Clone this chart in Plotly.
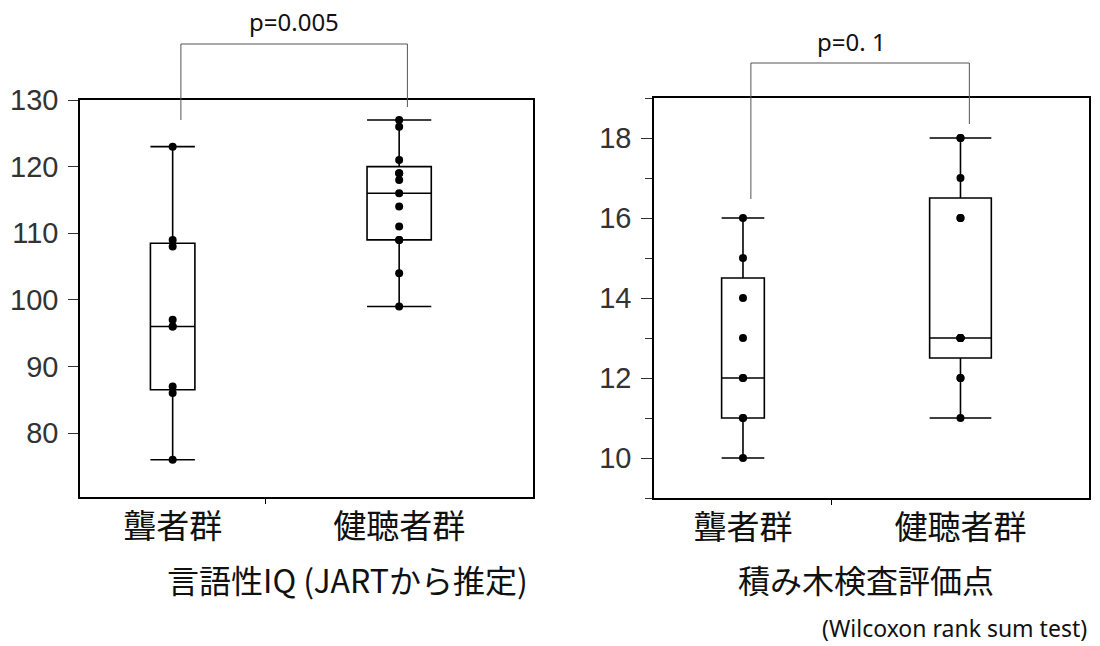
import plotly.graph_objects as go

# ---- data ----
groups = ["聾者群", "健聴者群"]
iq_deaf = [76, 86, 87, 96, 96, 97, 108, 109, 123]
iq_hearing = [99, 104, 109, 109, 111, 114, 116, 118, 119, 119, 121, 126, 127]
block_deaf = [10, 11, 11, 12, 12, 13, 14, 15, 16]
block_hearing = [11, 12, 12, 13, 13, 13, 13, 13, 16, 16, 17, 18, 18]
p_left = "p=0.005"
p_right = "p=0. 1"
title_left = "言語性IQ (JARTから推定)"
title_right = "積み木検査評価点"
note = "(Wilcoxon rank sum test)"

W, H = 1100, 646


def px(x):
    return x / W


def py(y):
    return 1 - y / H


fig = go.Figure()


def add_panel(vals_a, vals_b, xa, ya):
    na, nb = len(vals_a), len(vals_b)
    centers = [na / 2, na + nb / 2]
    for vals, c, n in [(vals_a, centers[0], na), (vals_b, centers[1], nb)]:
        fig.add_trace(go.Box(
            y=vals, x=[c] * n, width=0.24 * n,
            boxpoints="all", jitter=0, pointpos=0,
            marker=dict(color="black", size=8),
            line=dict(color="black", width=1.6),
            fillcolor="rgba(0,0,0,0)", whiskerwidth=1,
            quartilemethod="exclusive", showlegend=False,
            hoverinfo="y", xaxis=xa, yaxis=ya,
        ))
    return centers, na + nb, na


c_l, tot_l, b_l = add_panel(iq_deaf, iq_hearing, "x", "y")
c_r, tot_r, b_r = add_panel(block_deaf, block_hearing, "x2", "y2")

axis_common = dict(showline=True, linecolor="black", linewidth=1.5, mirror=True,
                   showgrid=False, zeroline=False, automargin=False)
tickfont_y = dict(family="Liberation Sans", size=29, color="#333")
tickfont_x = dict(family="Noto Sans CJK JP", size=33, color="#111")

fig.update_layout(
    width=W, height=H, margin=dict(l=0, r=0, t=0, b=0),
    paper_bgcolor="white", plot_bgcolor="white", boxmode="overlay",
    xaxis=dict(domain=[px(80), px(533)], range=[0, tot_l], tickvals=c_l, ticktext=groups,
               ticks="", tickfont=tickfont_x, ticklabelstandoff=0,
               minor=dict(tickvals=[b_l], ticks="outside", ticklen=5, tickcolor="black", tickwidth=1.2),
               **axis_common),
    yaxis=dict(domain=[py(497), py(100)], range=[70.4, 130], dtick=10, tick0=0,
               ticks="outside", ticklen=10, tickwidth=1.2, tickcolor="#333", tickfont=tickfont_y,
               ticklabelstandoff=4, **axis_common),
    xaxis2=dict(domain=[px(654), px(1089)], range=[0, tot_r], tickvals=c_r, ticktext=groups,
                ticks="", tickfont=tickfont_x, ticklabelstandoff=0, anchor="y2",
                minor=dict(tickvals=[b_r], ticks="outside", ticklen=5, tickcolor="black", tickwidth=1.2),
                **axis_common),
    yaxis2=dict(domain=[py(498), py(98)], range=[9, 19], dtick=2, tick0=0, anchor="x2",
                ticks="outside", ticklen=11, tickwidth=1.2, tickcolor="#333", tickfont=tickfont_y,
                ticklabelstandoff=4,
                minor=dict(dtick=1, ticks="outside", ticklen=7, tickcolor="#333", tickwidth=1.2),
                **axis_common),
)


# significance brackets
def bracket(xref, xa, xb, ytop, yleft, yright):
    ln = dict(color="#555", width=1)
    fig.add_shape(type="line", xref=xref, yref="paper", x0=xa, x1=xa, y0=ytop, y1=yleft, line=ln)
    fig.add_shape(type="line", xref=xref, yref="paper", x0=xb, x1=xb, y0=ytop, y1=yright, line=ln)
    fig.add_shape(type="line", xref=xref, yref="paper", x0=xa, x1=xb, y0=ytop, y1=ytop, line=ln)


bracket("x", c_l[0] + 0.4, c_l[1] + 0.4, py(44), py(120), py(107))
bracket("x2", c_r[0] + 0.4, c_r[1] + 0.45, py(63), py(199), py(124))

txt = dict(family="Noto Sans", size=24, color="#111")
fig.add_annotation(x=px(294), y=py(22), xref="paper", yref="paper", text=p_left,
                   xanchor="center", yanchor="middle", showarrow=False, font=txt)
fig.add_annotation(x=px(851), y=py(42), xref="paper", yref="paper", text=p_right,
                   xanchor="center", yanchor="middle", showarrow=False, font=txt)
ttl = dict(family="Noto Sans CJK JP", size=32, color="#111")
fig.add_annotation(x=px(347), y=py(579), xref="paper", yref="paper", text=title_left,
                   xanchor="center", yanchor="middle", showarrow=False, font=ttl)
fig.add_annotation(x=px(866), y=py(579), xref="paper", yref="paper", text=title_right,
                   xanchor="center", yanchor="middle", showarrow=False, font=ttl)
fig.add_annotation(x=px(1089), y=py(628), xref="paper", yref="paper", text=note,
                   xanchor="right", yanchor="middle", showarrow=False,
                   font=dict(family="Noto Sans", size=23, color="#111"))

fig.write_html(
    "out.html",
    config={"displayModeBar": False},
    post_script="document.body.style.margin='0';document.body.style.overflow='hidden';",
)
